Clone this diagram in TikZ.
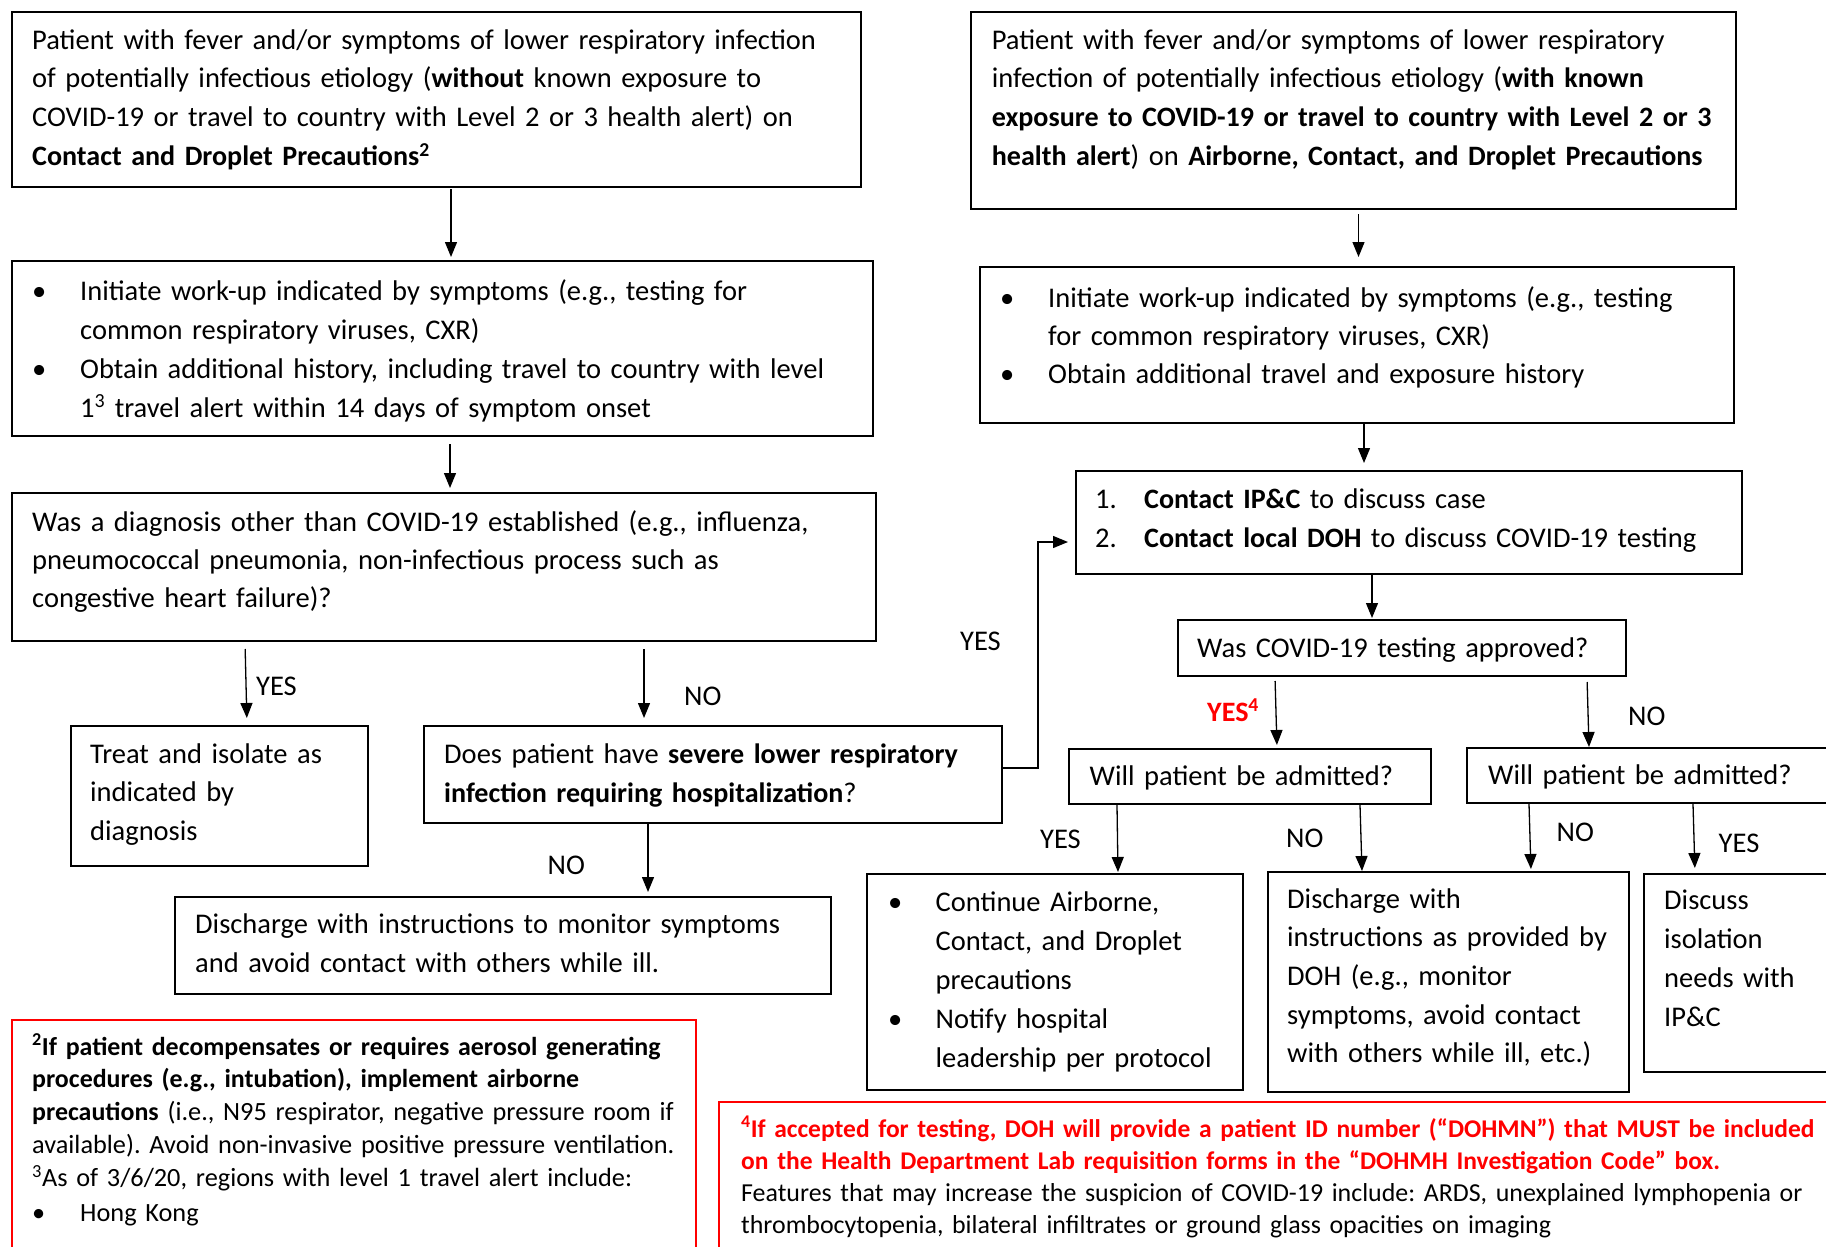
\documentclass[tikz,border=0pt]{standalone}
\usepackage{fontspec}
\setmainfont{Carlito}[BoldFeatures={Scale=0.985}]
\usetikzlibrary{arrows.meta}
\frenchspacing
\begin{document}
\begin{tikzpicture}[x=1pt,y=-1pt,
  box/.style={draw, line width=2pt, inner sep=0pt, anchor=north west},
  redbox/.style={draw=red, line width=2pt, inner sep=0pt, anchor=north west},
  txt/.style={anchor=base west, inner sep=0pt, text width=1000pt, align=left, font=\fontsize{28.5}{38.7}\selectfont},
  small/.style={anchor=base west, inner sep=0pt, text width=1100pt, align=left, font=\fontsize{26.3}{32.8}\selectfont},
  lbl/.style={anchor=base west, inner sep=0pt, font=\fontsize{28.5}{33}\selectfont},
  arr/.style={-{Triangle[length=15pt,width=12pt]}, line width=1.3pt}]
\useasboundingbox (0,0) rectangle (1826,1247);
\clip (0,0) rectangle (1826,1247);
% boxes
\node[box, minimum width=849pt, minimum height=175pt] (A) at (11,11) {};
\node[box, minimum width=861pt, minimum height=175pt] (B) at (11,260) {};
\node[box, minimum width=864pt, minimum height=148pt] (C) at (11,492) {};
\node[box, minimum width=297pt, minimum height=140pt] (D) at (70,725) {};
\node[box, minimum width=578pt, minimum height=97pt] (E) at (423,725) {};
\node[box, minimum width=656pt, minimum height=97pt] (F) at (174,896) {};
\node[redbox, minimum width=684pt, minimum height=300pt] (fn2) at (11,1019) {};
\node[box, minimum width=765pt, minimum height=197pt] (G) at (970,11) {};
\node[box, minimum width=754pt, minimum height=156pt] (H) at (979,266) {};
\node[box, minimum width=666pt, minimum height=103pt] (I) at (1075,470) {};
\node[box, minimum width=448pt, minimum height=56pt] (J) at (1177,619) {};
\node[box, minimum width=362pt, minimum height=55pt] (K) at (1068,748) {};
\node[box, minimum width=400pt, minimum height=55pt] (L) at (1466,747) {};
\node[box, minimum width=376pt, minimum height=216pt] (M) at (866,873) {};
\node[box, minimum width=361pt, minimum height=220pt] (N) at (1267,871) {};
\node[box, minimum width=250pt, minimum height=198pt] (O) at (1643,873) {};
\node[redbox, minimum width=1200pt, minimum height=250pt] (fn4) at (718,1101) {};
% texts
\node[txt] (tA) at (32,49.3) {Patient with fever and/or symptoms of lower respiratory infection\\
of potentially infectious etiology (\textbf{without} known exposure to\\
COVID-19 or travel to country with Level 2 or 3 health alert) on\\
\textbf{Contact and Droplet Precautions\textsuperscript{2}}};
\node[txt, font=\fontsize{28.5}{39}\selectfont] (tB) at (32,300) {\makebox[48pt][l]{\textbullet}Initiate work-up indicated by symptoms (e.g., testing for\\
\hspace*{48pt}common respiratory viruses, CXR)\\
\makebox[48pt][l]{\textbullet}Obtain additional history, including travel to country with level\\
\hspace*{48pt}1\textsuperscript{3} travel alert within 14 days of symptom onset};
\node[txt, font=\fontsize{28.5}{38}\selectfont] (tC) at (32,531) {Was a diagnosis other than COVID-19 established (e.g., influenza,\\
pneumococcal pneumonia, non-infectious process such as\\
congestive heart failure)?};
\node[txt, font=\fontsize{28.5}{38.5}\selectfont] (tD) at (90,763) {Treat and isolate as\\ indicated by\\ diagnosis};
\node[txt, font=\fontsize{28.5}{39}\selectfont] (tE) at (444,763) {Does patient have \textbf{severe lower respiratory}\\ \textbf{infection requiring hospitalization}?};
\node[txt, font=\fontsize{28.5}{39}\selectfont] (tF) at (195,933) {Discharge with instructions to monitor symptoms\\ and avoid contact with others while ill.};
\node[small] (tfn2) at (32,1055) {\textbf{\textsuperscript{2}If patient decompensates or requires aerosol generating}\\
\textbf{procedures (e.g., intubation), implement airborne}\\
\textbf{precautions} (i.e., N95 respirator, negative pressure room if\\
available). Avoid non-invasive positive pressure ventilation.\\
\textsuperscript{3}As of 3/6/20, regions with level 1 travel alert include:\\[2pt]
\makebox[48pt][l]{\textbullet}Hong Kong};
\node[txt] (tG) at (991.6,49) {Patient with fever and/or symptoms of lower respiratory\\
infection of potentially infectious etiology (\textbf{with known}\\
\textbf{exposure to COVID-19 or travel to country with Level 2 or 3}\\
\textbf{health alert}) on \textbf{Airborne, Contact, and Droplet Precautions}};
\node[txt, font=\fontsize{28.5}{38}\selectfont] (tH) at (1000,307) {\makebox[48pt][l]{\textbullet}Initiate work-up indicated by symptoms (e.g., testing\\
\hspace*{48pt}for common respiratory viruses, CXR)\\
\makebox[48pt][l]{\textbullet}Obtain additional travel and exposure history};
\node[txt, font=\fontsize{28.5}{39}\selectfont] (tI) at (1095,508) {\makebox[49pt][l]{1.}\textbf{Contact IP\&C} to discuss case\\
\makebox[49pt][l]{2.}\textbf{Contact local DOH} to discuss COVID-19 testing};
\node[txt] (tJ) at (1197,657) {Was COVID-19 testing approved?};
\node[txt] (tK) at (1089.5,785) {Will patient be admitted?};
\node[txt] (tL) at (1488,784) {Will patient be admitted?};
\node[txt, font=\fontsize{28.5}{39}\selectfont] (tM) at (888,911) {\makebox[47.5pt][l]{\textbullet}Continue Airborne,\\
\hspace*{47.5pt}Contact, and Droplet\\
\hspace*{47.5pt}precautions\\
\makebox[47.5pt][l]{\textbullet}Notify hospital\\
\hspace*{47.5pt}leadership per protocol};
\node[txt, font=\fontsize{28.5}{38.7}\selectfont] (tN) at (1287,908) {Discharge with\\ instructions as provided by\\ DOH (e.g., monitor\\ symptoms, avoid contact\\ with others while ill, etc.)};
\node[txt, font=\fontsize{28.5}{39}\selectfont] (tO) at (1664,909) {Discuss\\ isolation\\ needs with\\ IP\&C};
\node[small, font=\fontsize{25.9}{32}\selectfont] (tfn4) at (741,1137) {\textcolor{red}{\textbf{\textsuperscript{4}If accepted for testing, DOH will provide a patient ID number (“DOHMN”) that MUST be included}}\\
\textcolor{red}{\textbf{on the Health Department Lab requisition forms in the “DOHMH Investigation Code” box.}}\\
Features that may increase the suspicion of COVID-19 include: ARDS, unexplained lymphopenia or\\
thrombocytopenia, bilateral infiltrates or ground glass opacities on imaging};
% labels
\node[lbl] (l1) at (256,695) {YES};
\node[lbl] (l2) at (684,705) {NO};
\node[lbl] (l3) at (547.5,874) {NO};
\node[lbl] (l4) at (960,650) {YES};
\node[lbl, text=red, font=\fontsize{28.5}{33}\selectfont\bfseries] (l5) at (1207,721) {YES\textsuperscript{4}};
\node[lbl] (l6) at (1628,725) {NO};
\node[lbl] (l7) at (1040,848) {YES};
\node[lbl] (l8) at (1286,847) {NO};
\node[lbl] (l9) at (1556.5,841) {NO};
\node[lbl] (l10) at (1718.5,852) {YES};
% connectors
\draw[arr, shorten <=1pt, shorten >=3pt] (A.south -| 451,0) -- (B.north -| 451,0);
\draw[arr, shorten <=7pt, shorten >=4pt] (B.south -| 450,0) -- (C.north -| 450,0);
\draw[arr, shorten <=7pt, shorten >=7pt] (C.south -| 245,0) -- (D.north -| 247,0);
\draw[arr, shorten <=7pt, shorten >=7pt] (C.south -| 644,0) -- (E.north -| 644,0);
\draw[arr, shorten >=4pt] (E.south -| 648,0) -- (F.north -| 648,0);
\draw[arr, shorten >=7pt] (E.east |- 0,768) -- ++(35,0) |- (I.west |- 0,542);
\draw[arr, shorten <=4pt, shorten >=9pt] (G.south -| 1358.5,0) -- (H.north -| 1358.5,0);
\draw[arr, shorten >=7pt] (H.south -| 1364,0) -- (I.north -| 1364,0);
\draw[arr, shorten >=1pt] (I.south -| 1372,0) -- (J.north -| 1372,0);
\draw[arr, shorten <=4pt, shorten >=3pt] (J.south -| 1275,0) -- (K.north -| 1277,0);
\draw[arr, shorten <=5pt] (J.south -| 1587,0) -- (L.north -| 1589,0);
\draw[arr, shorten >=1pt] (K.south -| 1117,0) -- (M.north -| 1118,0);
\draw[arr] (K.south -| 1360,0) -- (N.north -| 1362,0);
\draw[arr, shorten >=2pt] (L.south -| 1529,0) -- (N.north -| 1531,0);
\draw[arr, shorten >=5pt] (L.south -| 1693,0) -- (O.north -| 1695,0);
\end{tikzpicture}
\end{document}
